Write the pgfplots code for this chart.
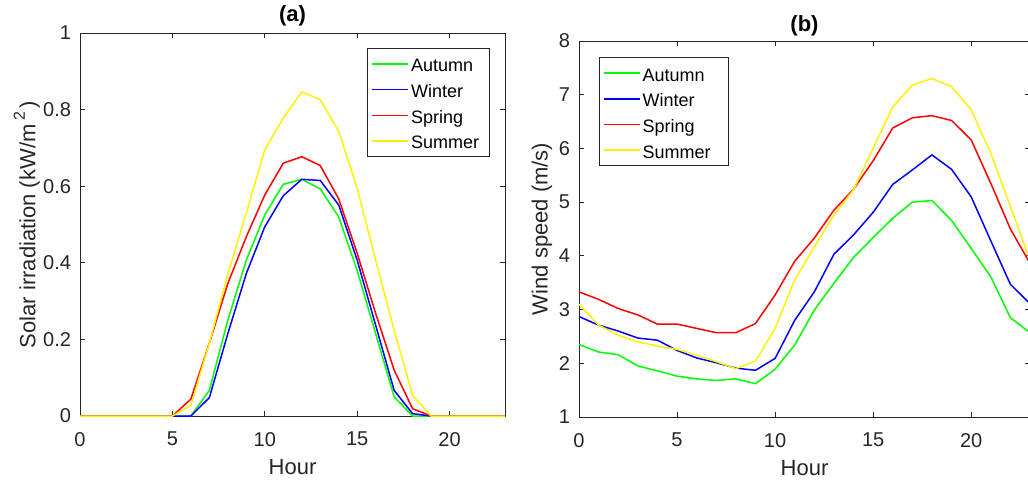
\documentclass[border=0pt]{standalone}
\usepackage{pgfplots}
\pgfplotsset{compat=1.18}
\usepackage{fontspec}
\setmainfont{Liberation Sans}
\definecolor{axgray}{rgb}{0.15,0.15,0.15}
\pgfplotsset{
  mstyle/.style={
    scale only axis,
    axis line style={axgray, line width=0.5pt},
    every tick/.style={axgray, line width=0.5pt},
    major tick length=2.5pt,
    tick align=inside,
    xtick pos=both, ytick pos=both,
    ticklabel style={font=\fontsize{10}{12}\selectfont, text=axgray},
    /pgf/number format/assume math mode=true,
    xticklabel style={yshift=-4.5pt},
    yticklabel style={xshift=-1pt},
    label style={font=\fontsize{11}{13}\selectfont, text=axgray},
    title style={font=\fontsize{11}{13}\selectfont\bfseries, text=black, anchor=center},
    xmin=0, xmax=23,
    xtick={0,5,10,15,20},
    xlabel={Hour},
    legend cell align=left,
    legend style={font=\fontsize{9}{11}\selectfont, draw=axgray, line width=0.5pt,
      inner xsep=1.8pt, inner ysep=2.5pt, row sep=2.35pt,
      nodes={inner sep=1pt, text height=8.2pt, text depth=0.3pt}},
    legend image code/.code={\draw[#1, line width=0.8pt] (0pt,0pt) -- (18pt,0pt);},
    every axis plot/.append style={line width=0.75pt, mark=none},
  }
}
\begin{document}
\begin{tikzpicture}
\begin{axis}[mstyle,
  at={(40pt,33.5pt)}, anchor=south west,
  width=212.5pt, height=191.5pt,
  ymin=0, ymax=1, ytick={0,0.2,0.4,0.6,0.8,1},
  yticklabels={0,0.2,0.4,0.6,0.8,1},
  ylabel={Solar irradiation (kW/m\,\raisebox{0.9ex}{\fontsize{8}{9}\selectfont 2}\,)},
  ylabel style={at={(axis description cs:-0.125,0.5)}, anchor=center},
  xlabel style={at={(axis description cs:0.5,-0.133)}, anchor=center},
  title={(a)}, title style={at={(axis description cs:0.5,1.013)}},
  legend style={at={(axis description cs:0.965,0.961)}, anchor=north east},
]
\addplot[green] coordinates {(0,0)(1,0)(2,0)(3,0)(4,0)(5,0)(6,0)(7,0.067)(8,0.25)(9,0.407)(10,0.525)(11,0.605)(12,0.618)(13,0.593)(14,0.52)(15,0.38)(16,0.215)(17,0.05)(18,0)(19,0)(20,0)(21,0)(22,0)(23,0)};
\addplot[blue] coordinates {(0,0)(1,0)(2,0)(3,0)(4,0)(5,0)(6,0)(7,0.048)(8,0.215)(9,0.372)(10,0.494)(11,0.575)(12,0.618)(13,0.615)(14,0.551)(15,0.407)(16,0.237)(17,0.067)(18,0.006)(19,0)(20,0)(21,0)(22,0)(23,0)};
\addplot[red] coordinates {(0,0)(1,0)(2,0)(3,0)(4,0)(5,0)(6,0.044)(7,0.19)(8,0.346)(9,0.468)(10,0.577)(11,0.66)(12,0.677)(13,0.654)(14,0.567)(15,0.425)(16,0.268)(17,0.12)(18,0.019)(19,0)(20,0)(21,0)(22,0)(23,0)};
\addplot[yellow] coordinates {(0,0)(1,0)(2,0)(3,0)(4,0)(5,0)(6,0.028)(7,0.19)(8,0.37)(9,0.53)(10,0.695)(11,0.778)(12,0.846)(13,0.826)(14,0.743)(15,0.595)(16,0.407)(17,0.224)(18,0.054)(19,0)(20,0)(21,0)(22,0)(23,0)};
\legend{Autumn,Winter,Spring,Summer\kern2.5pt\mbox{}}
\end{axis}
\begin{axis}[mstyle,
  at={(289.5pt,33pt)}, anchor=south west,
  width=225.5pt, height=188pt,
  ymin=1, ymax=8, ytick={1,2,3,4,5,6,7,8},
  ylabel={Wind speed (m/s)},
  ylabel style={at={(axis description cs:-0.082,0.5)}, anchor=center},
  xlabel style={at={(axis description cs:0.5,-0.136)}, anchor=center},
  title={(b)}, title style={at={(axis description cs:0.5,1.008)}},
  legend style={at={(axis description cs:0.044,0.957)}, anchor=north west},
]
\addplot[green] coordinates {(0,2.35)(1,2.21)(2,2.16)(3,1.95)(4,1.86)(5,1.76)(6,1.71)(7,1.68)(8,1.71)(9,1.62)(10,1.89)(11,2.34)(12,2.99)(13,3.49)(14,3.97)(15,4.34)(16,4.70)(17,5.00)(18,5.03)(19,4.66)(20,4.14)(21,3.61)(22,2.85)(23,2.57)};
\addplot[blue] coordinates {(0,2.87)(1,2.71)(2,2.60)(3,2.47)(4,2.43)(5,2.24)(6,2.10)(7,2.01)(8,1.91)(9,1.87)(10,2.09)(11,2.80)(12,3.33)(13,4.03)(14,4.39)(15,4.81)(16,5.33)(17,5.60)(18,5.88)(19,5.61)(20,5.10)(21,4.28)(22,3.47)(23,3.11)};
\addplot[red] coordinates {(0,3.33)(1,3.19)(2,3.02)(3,2.90)(4,2.73)(5,2.73)(6,2.65)(7,2.57)(8,2.57)(9,2.74)(10,3.27)(11,3.90)(12,4.33)(13,4.85)(14,5.24)(15,5.77)(16,6.38)(17,6.57)(18,6.61)(19,6.52)(20,6.16)(21,5.35)(22,4.50)(23,3.86)};
\addplot[yellow] coordinates {(0,3.10)(1,2.71)(2,2.52)(3,2.40)(4,2.32)(5,2.26)(6,2.15)(7,2.03)(8,1.90)(9,2.04)(10,2.65)(11,3.55)(12,4.17)(13,4.76)(14,5.23)(15,6.00)(16,6.77)(17,7.18)(18,7.30)(19,7.15)(20,6.72)(21,5.91)(22,4.92)(23,3.92)};
\legend{Autumn,Winter,Spring,Summer\kern6pt\mbox{}}
\end{axis}
\pgfresetboundingbox
\useasboundingbox (0,0) rectangle (514pt,241.5pt);
\end{tikzpicture}
\end{document}
